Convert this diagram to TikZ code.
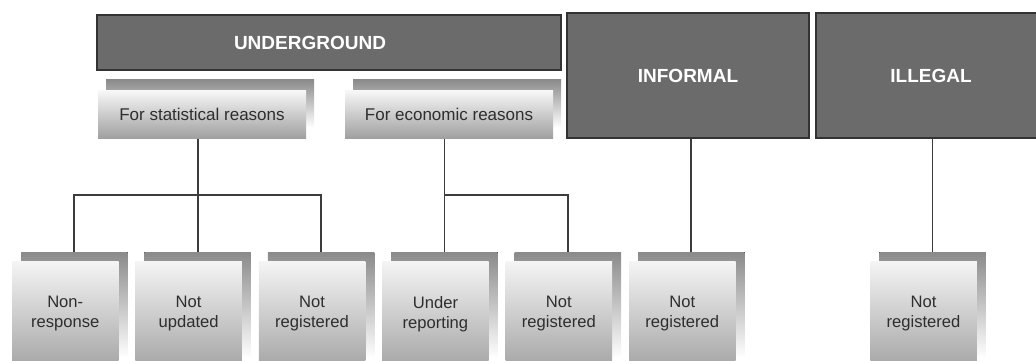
\documentclass[tikz,border=0pt]{standalone}
\usepackage{fontspec}
\setmainfont{Liberation Sans}
\usetikzlibrary{positioning, shadows}

\definecolor{darkbox}{HTML}{6B6B6B}
\definecolor{boxline}{HTML}{333333}
\definecolor{plate}{HTML}{8A8A8A}
\definecolor{softtext}{HTML}{2E2E2E}
\definecolor{wire}{HTML}{3C3C3C}

\begin{document}
\begin{tikzpicture}[
  x=1pt, y=1pt,
  head/.style={draw=boxline, fill=darkbox, line width=1.2pt, inner sep=0pt,
    text=white, font=\fontsize{19}{22}\selectfont\bfseries},
  reason/.style={top color=white!97!black, bottom color=gray!75, inner sep=0pt,
    minimum width=208pt, minimum height=48pt, text=softtext, font=\fontsize{17}{20}\selectfont,
    copy shadow={shadow xshift=8pt, shadow yshift=11pt, draw=none, top color=plate, bottom color=white}},
  leaf/.style={top color=white!96!black, bottom color=gray!70, inner sep=0pt, align=center,
    minimum width=106.5pt, minimum height=106pt, text=softtext, font=\fontsize{16.6}{20}\selectfont,
    copy shadow={shadow xshift=9pt, shadow yshift=9pt, draw=none, top color=plate, bottom color=white}},
  link/.style={draw=wire, line width=1.8pt},
]
  \useasboundingbox (0,0) rectangle (1036,-360);

  % top level
  \node[head, minimum width=464pt, minimum height=55pt,
    label={[text=white, font=\fontsize{19}{22}\selectfont\bfseries, xshift=-19pt]center:UNDERGROUND}] (under) at (329,-42.5) {};
  \node[head, minimum width=242pt, minimum height=125pt] (informal) at (688,-75.5) {INFORMAL};
  \node[head, minimum width=230pt, minimum height=125pt] (illegal) at (931,-75.5) {ILLEGAL};

  % reasons
  \node[reason] (stat) at (202,-114.5) {For statistical reasons};
  \node[reason] (econ) at (449,-114.5) {For economic reasons};

  % bottom row
  \node[leaf] (nonresp) at (65.25,-314) {Non-\\response};
  \node[leaf, right=16.5pt of nonresp] (updated) {Not\\updated};
  \node[leaf, right=16.5pt of updated] (notreg) {Not\\registered};
  \node[leaf, right=16.5pt of notreg] (underrep) {Under\\reporting};
  \node[leaf, right=16.5pt of underrep] (notregb) {Not\\registered};
  \node[leaf, right=16.5pt of notregb] (notregc) {Not\\registered};
  \node[leaf] (notregd) at (923.5,-314) {Not\\registered};

  % stems meet the back plates
  \foreach \n in {nonresp,updated,notreg,underrep,notregb,notregc,notregd}
    \coordinate (top-\n) at ([shift={(9pt,9pt)}]\n.north);
  \coordinate (bar) at (0,-195);

  \draw[link] (stat.south -| top-updated) -- (top-updated);
  \draw[link] (top-nonresp) -- (top-nonresp |- bar) -- (top-notreg |- bar) -- (top-notreg);
  \draw[link] (econ.south -| top-underrep) -- (top-underrep);
  \draw[link] (top-underrep |- bar) -- (top-notregb |- bar) -- (top-notregb);
  \draw[link] (informal.south -| top-notregc) -- (top-notregc);
  \draw[link] (illegal.south -| top-notregd) -- (top-notregd);
\end{tikzpicture}
\end{document}
